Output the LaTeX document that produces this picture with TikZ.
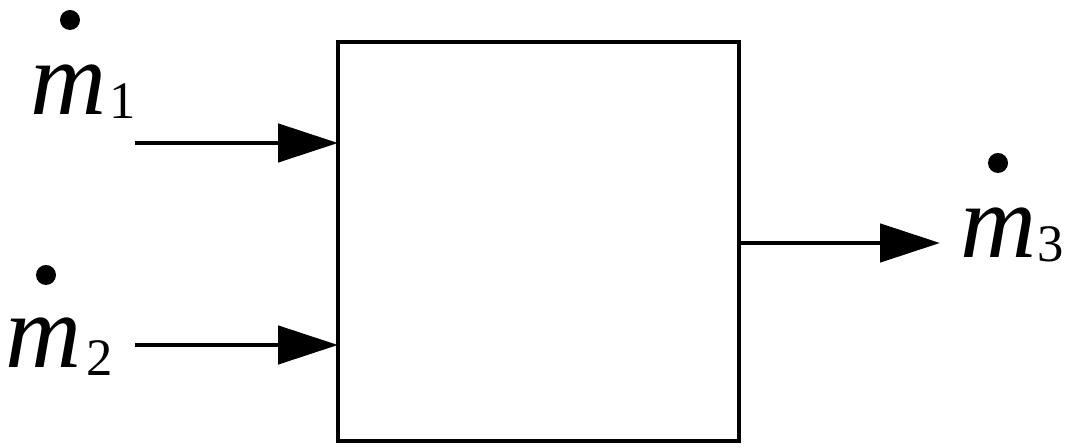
\documentclass[tikz,border=0pt]{standalone}
\usepackage{fontspec}
\setmainfont{Liberation Serif}
\usetikzlibrary{arrows.meta}
\begin{document}
\begin{tikzpicture}[every node/.style={inner sep=0pt, outer sep=0pt}]
\tikzset{
  blkbox/.style={draw, line width=2.8pt, minimum width=8.02cm, minimum height=7.98cm},
  flow/.style={line width=2.8pt, -{Triangle[length=1.2cm, width=0.76cm]}},
  flowlbl/.style={anchor=base west, font=\fontsize{60}{60}\selectfont\itshape},
  ratedot/.style={circle, fill, minimum size=0.4cm}
}
\useasboundingbox (0,0) rectangle (21.36,8.96);
\node[blkbox] (blk) at (10.77,4.13) {};

\coordinate (s1) at (2.7,6.1);
\coordinate (s2) at (2.7,2.06);
\coordinate (e3) at (18.8,4.1);
\draw[flow] (s1) -- (s1 -| blk.west);
\draw[flow] (s2) -- (s2 -| blk.west);
\draw[flow] (blk.east |- e3) -- (e3);

\node[flowlbl] (m1) at (0.6,6.66) {m\kern2pt\raisebox{-2pt}{\fontsize{30}{30}\selectfont\upshape 1}};
\node[flowlbl] (m2) at (0.1,1.6) {m\kern3pt\raisebox{-4pt}{\fontsize{30}{30}\selectfont\upshape 2}};
\node[flowlbl] (m3) at (19.2,3.8) {m\kern1pt\raisebox{-2pt}{\fontsize{30}{30}\selectfont\upshape 3}};
\node[ratedot] (d1) at (1.4,8.56) {};
\node[ratedot] (d2) at (0.92,3.46) {};
\node[ratedot] (d3) at (19.96,5.7) {};
\end{tikzpicture}
\end{document}
